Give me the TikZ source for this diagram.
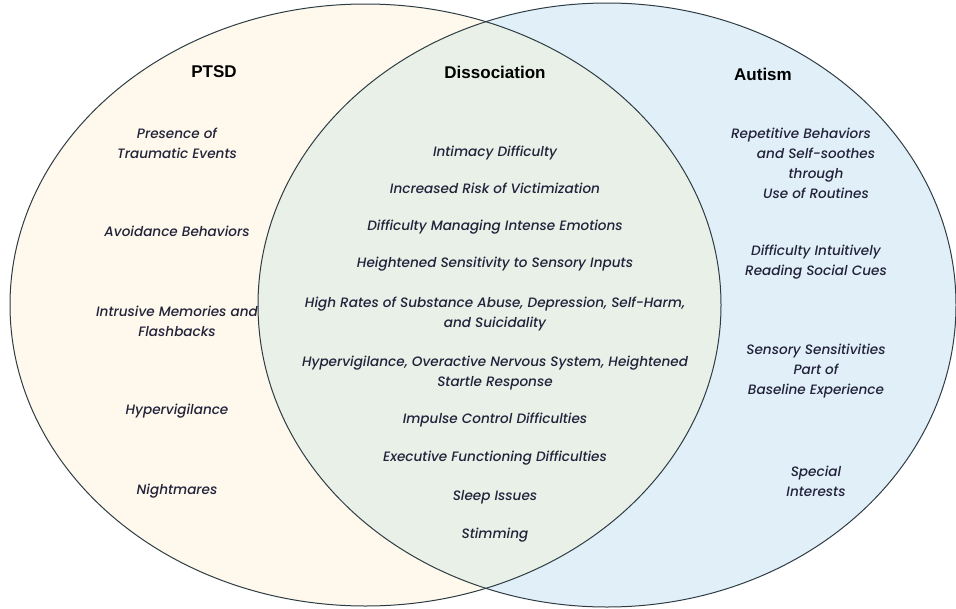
\documentclass[tikz,border=0pt]{standalone}
\usepackage{fontspec}
\setmainfont{Poppins}
\newfontfamily\headfont{Liberation Sans}
\newfontfamily\traitfont{Poppins}[UprightFont={* Medium}, ItalicFont={* Medium Italic}]
\usepackage{tikz}

\definecolor{ptsdfill}{HTML}{FEF9EC}
\definecolor{autfill}{HTML}{E1F0F8}
\definecolor{dissfill}{HTML}{E9F0E8}
\definecolor{rim}{HTML}{2E3C44}
\definecolor{ink}{HTML}{22223A}

\tikzset{
    heading/.style = {font=\headfont\bfseries\fontsize{17}{19}\selectfont, text=black},
    trait/.style   = {font=\traitfont\itshape\fontsize{13.6}{20}\selectfont, align=center, text=ink, inner sep=1pt},
}

\begin{document}
\begin{tikzpicture}[x=1pt, y=-1pt]
            \useasboundingbox (0,0) rectangle (956,608);

            \fill[ptsdfill] (365.5,305) ellipse [x radius=355.5, y radius=301];
            \fill[autfill] (607,305) ellipse [x radius=349, y radius=302];
            \begin{scope}
                \clip (365.5,305) ellipse [x radius=355.5, y radius=301];
                \fill[dissfill] (607,305) ellipse [x radius=349, y radius=302];
            \end{scope}
            \draw[rim, line width=1pt] (365.5,305) ellipse [x radius=355.5, y radius=301];
            \draw[rim, line width=1pt] (607,305) ellipse [x radius=349, y radius=302];

            \node[heading] (ptsd) at (214,72) {PTSD};
            \node[heading] (diss) at (495,72) {Dissociation};
            \node[heading] (aut)  at (763,74) {Autism};

            \node[trait] (trauma) at (177,143) {Presence of\\Traumatic Events};
            \node[trait] (avoid)  at (177,231) {Avoidance Behaviors};
            \node[trait] (intrus) at (177,321) {Intrusive Memories and\\Flashbacks};
            \node[trait] (hyperp) at (177,411) {Hypervigilance};
            \node[trait] (night)  at (177,491) {Nightmares};

            \node[trait] (intim)   at (495,153) {Intimacy Difficulty};
            \node[trait] (victim)  at (495,188) {Increased Risk of Victimization};
            \node[trait] (emot)    at (495,227) {Difficulty Managing Intense Emotions};
            \node[trait] (sensd)   at (495,264) {Heightened Sensitivity to Sensory Inputs};
            \node[trait] (subst)   at (495,314) {High Rates of Substance Abuse, Depression, Self-Harm,\\and Suicidality};
            \node[trait] (startle) at (495,373) {Hypervigilance, Overactive Nervous System, Heightened\\Startle Response};
            \node[trait] (impulse) at (495,420) {Impulse Control Difficulties};
            \node[trait] (exec)    at (495,458) {Executive Functioning Difficulties};
            \node[trait] (sleep)   at (495,497) {Sleep Issues};
            \node[trait] (stim)    at (495,535) {Stimming};

            \node[trait] (routine) at (816,163) {Repetitive Behaviors\hspace*{30pt}\\and Self-soothes\\through\\Use of Routines};
            \node[trait] (cues)    at (816,262) {Difficulty Intuitively\\Reading Social Cues};
            \node[trait] (senso)   at (816,371) {Sensory Sensitivities\\Part of\\Baseline Experience};
            \node[trait] (special) at (816,481) {Special\\Interests};

        \end{tikzpicture}
\end{document}
